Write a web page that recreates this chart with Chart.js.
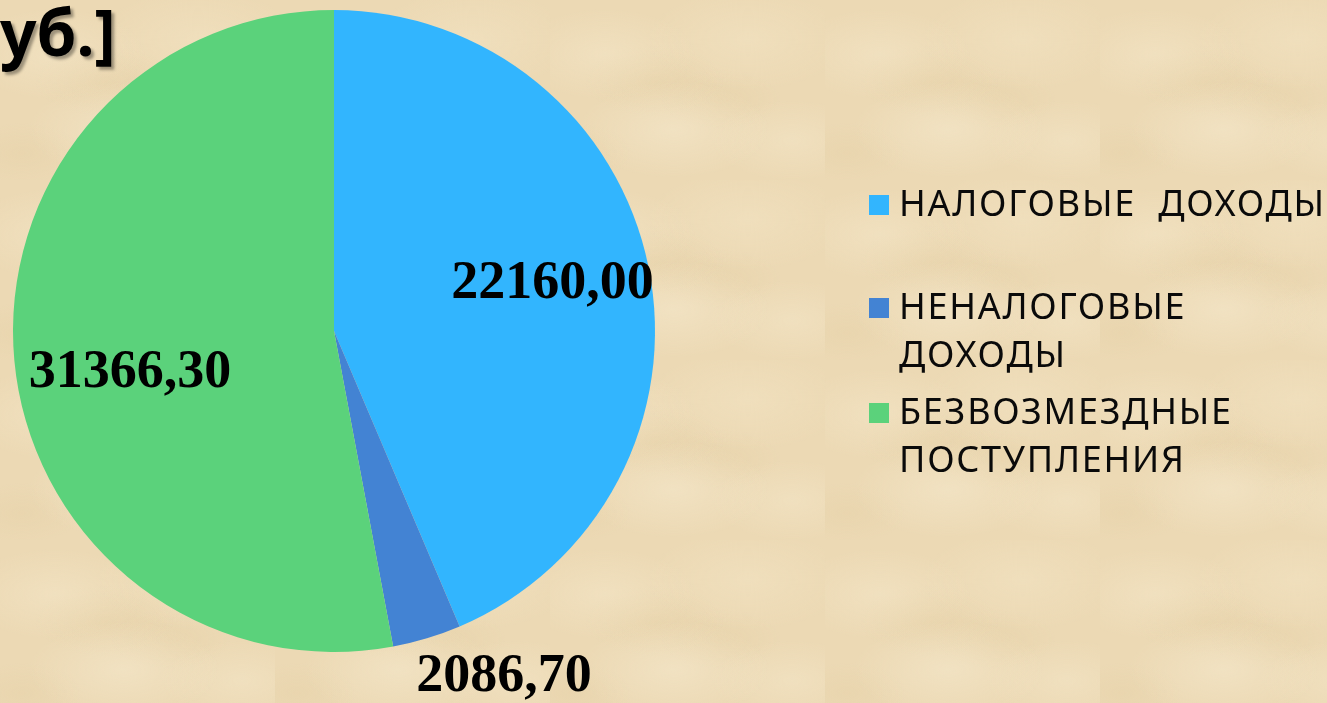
<!DOCTYPE html>
<html>
<head>
<meta charset="utf-8">
<script src="https://cdn.jsdelivr.net/npm/chart.js@4.4.1/dist/chart.umd.min.js"></script>
<style>
  html, body { margin: 0; padding: 0; }
  body {
    width: 1327px; height: 703px; overflow: hidden; position: relative;
    background-color: #ecd9b4;
    background-image:
      radial-gradient(ellipse 90px 45px at 20% 30%, rgba(246,233,204,0.45), rgba(246,233,204,0) 100%),
      radial-gradient(ellipse 100px 50px at 72% 22%, rgba(245,231,200,0.4), rgba(245,231,200,0) 100%),
      radial-gradient(ellipse 95px 48px at 45% 72%, rgba(247,236,210,0.45), rgba(247,236,210,0) 100%),
      radial-gradient(ellipse 80px 40px at 88% 78%, rgba(246,234,206,0.4), rgba(246,234,206,0) 100%),
      radial-gradient(ellipse 70px 35px at 38% 45%, rgba(222,199,152,0.25), rgba(222,199,152,0) 100%),
      radial-gradient(ellipse 60px 30px at 62% 55%, rgba(222,199,152,0.22), rgba(222,199,152,0) 100%),
      radial-gradient(ellipse 60px 30px at 8% 85%, rgba(222,199,152,0.2), rgba(222,199,152,0) 100%);
    background-size: 275px 180px;
  }
  #wrap { position: absolute; left: 0; top: 0; width: 1327px; height: 703px; }
  #title {
    position: absolute; left: 0; top: 0;
    font-family: "Noto Sans", sans-serif; font-weight: 700; font-size: 64px;
    color: #000; text-shadow: 3px 3px 3px rgba(0,0,0,0.35); white-space: pre; line-height: 1;
  }
  .leg { position: absolute; left: 869px; white-space: pre; }
  .leg .sw { position: absolute; left: 0; width: 20px; height: 20px; }
  .leg .tx {
    position: absolute; left: 30px; top: 0;
    font-family: "Noto Sans", sans-serif; font-size: 36px; line-height: 47.5px;
    color: #0a0a0a; letter-spacing: 1.75px;
  }
</style>
</head>
<body>
<div id="wrap"><canvas id="c" width="1327" height="703"></canvas></div>
<div id="title"></div>
<div id="legend"></div>
<script>
// ---- data ----
const titleText = 'уб.]';
const categories = ['НАЛОГОВЫЕ  ДОХОДЫ', 'НЕНАЛОГОВЫЕ\nДОХОДЫ', 'БЕЗВОЗМЕЗДНЫЕ\nПОСТУПЛЕНИЯ'];
// slice sizes as drawn in the picture (thousand rubles)
const sliceValues = [22160, 1753, 26913];
// numbers printed on the slices
const valueLabels = ['22160,00', '2086,70', '31366,30'];
const colors = ['#32B5FE', '#4383D3', '#5BD27B'];

// ---- label placement (style) ----
const labelPlacement = [
  { dAngle: -0.9, rFactor: 0.697 },
  { dAngle: -9.4, rFactor: 1.198 },
  { dAngle: -6.1, rFactor: 0.648 }
];

document.getElementById('title').textContent = titleText;

// HTML legend built from categories/colors
const legendTops = [179, 282, 387];
const legendEl = document.getElementById('legend');
categories.forEach((c, i) => {
  const d = document.createElement('div');
  d.className = 'leg';
  d.style.top = legendTops[i] + 'px';
  const sw = document.createElement('div');
  sw.className = 'sw';
  sw.style.background = colors[i];
  sw.style.top = '16px';
  const tx = document.createElement('div');
  tx.className = 'tx';
  tx.textContent = c;
  d.appendChild(sw); d.appendChild(tx);
  legendEl.appendChild(d);
});

const valueLabelPlugin = {
  id: 'valueLabels',
  afterDatasetsDraw(chart) {
    const ctx = chart.ctx;
    const meta = chart.getDatasetMeta(0);
    ctx.save();
    ctx.font = 'bold 54px "Liberation Serif", "Times New Roman", serif';
    ctx.fillStyle = '#000';
    ctx.textAlign = 'center';
    ctx.textBaseline = 'middle';
    meta.data.forEach((arc, i) => {
      const p = arc.getProps(['x', 'y', 'startAngle', 'endAngle', 'outerRadius'], true);
      const mid = (p.startAngle + p.endAngle) / 2 + labelPlacement[i].dAngle * Math.PI / 180;
      const r = p.outerRadius * labelPlacement[i].rFactor;
      ctx.fillText(valueLabels[i], p.x + Math.cos(mid) * r, p.y + Math.sin(mid) * r + 1);
    });
    ctx.restore();
  }
};

new Chart(document.getElementById('c'), {
  type: 'pie',
  data: {
    labels: categories,
    datasets: [{
      data: sliceValues,
      backgroundColor: colors,
      borderWidth: 0,
      hoverOffset: 0
    }]
  },
  options: {
    responsive: false,
    animation: false,
    layout: { padding: { left: 13, top: 10, right: 672, bottom: 51 } },
    plugins: {
      legend: { display: false },
      tooltip: { enabled: false }
    },
    events: []
  },
  plugins: [valueLabelPlugin]
});
</script>
</body>
</html>
